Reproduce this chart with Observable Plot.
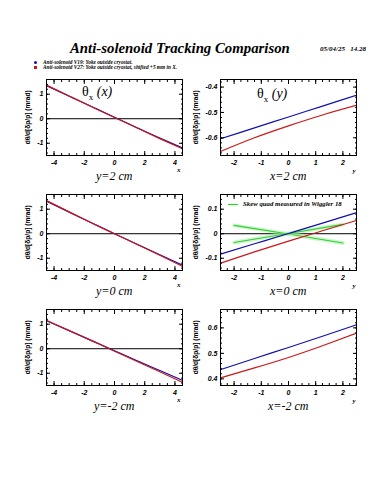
<!DOCTYPE html>
<html><head><meta charset="utf-8">
<script src="https://cdn.jsdelivr.net/npm/d3@7"></script>
<script src="https://cdn.jsdelivr.net/npm/@observablehq/plot@0.6"></script>
<style>
body{margin:0;background:#fff;}
#c{position:relative;width:375px;height:500px;overflow:hidden;background:#fff;}
.t{position:absolute;white-space:nowrap;line-height:1;color:#000;}
.svgp{position:absolute;}
</style></head><body><div id="c"></div>
<script>
// ---------- data ----------
const rowLabelsLeft = ["y=2 cm", "y=0 cm", "y=-2 cm"];
const rowLabelsRight = ["x=2 cm", "x=0 cm", "x=-2 cm"];
const xSamples = [-4.5, -3, -1.5, 0, 1.5, 3, 4.5];           // horizontal position x (cm)
const leftBlue = [
  [1.35, 0.92, 0.49, 0.06, -0.37, -0.79, -1.19],
  [1.33, 0.88, 0.44, 0.00, -0.43, -0.86, -1.28],
  [1.14, 0.74, 0.33, -0.08, -0.49, -0.89, -1.29]
];
const leftRed = [
  [1.37, 0.93, 0.49, 0.05, -0.38, -0.81, -1.23],
  [1.35, 0.89, 0.44, 0.00, -0.44, -0.88, -1.33],
  [1.16, 0.74, 0.32, -0.10, -0.52, -0.94, -1.37]
];
const ySamples = [-2.5, -1.25, 0, 1.25, 2.5];               // vertical position y (cm)
const rightBlue = [
  [-0.604, -0.561, -0.518, -0.475, -0.432],
  [-0.083, -0.041, 0.001, 0.043, 0.086],
  [0.436, 0.480, 0.523, 0.567, 0.612]
];
const rightRed = [
  [-0.654, -0.600, -0.553, -0.510, -0.472],
  [-0.120, -0.074, -0.030, 0.012, 0.054],
  [0.404, 0.443, 0.484, 0.530, 0.579]
];
const greenX = [-2, 0, 2];
const greenA = [0.034, -0.001, -0.038];
const greenB = [-0.036, 0.001, 0.038];

const leftYDomain = [-1.5, 1.6];
const rightYDomains = [[-0.67, -0.37], [-0.15, 0.16], [0.374, 0.672]];
const leftYTicks = [-1, 0, 1];
const rightYTicks = [[-0.6, -0.5, -0.4], [-0.1, 0, 0.1], [0.4, 0.5, 0.6]];
const leftXTicks = [-4, -2, 0, 2, 4];
const rightXTicks = [-2, -1, 0, 1, 2];

const BLUE = "#1010b0", RED = "#cc1818", GREEN = "#33cc33";

// ---------- layout ----------
const c = document.getElementById("c");
function txt(html, x, y, css, anchor = "middle") {
  const d = document.createElement("div");
  d.className = "t";
  d.innerHTML = html;
  d.style.cssText += css;
  c.appendChild(d);
  const w = d.offsetWidth, h = d.offsetHeight;
  const lx = anchor === "middle" ? x - w / 2 : anchor === "end" ? x - w : x;
  d.style.left = lx + "px";
  d.style.top = (y - h / 2) + "px";
  return d;
}

function rangeStep(a, b, s) { const out = []; for (let v = a; v <= b + 1e-9; v += s) out.push(+v.toFixed(6)); return out; }

function panel({px, py, mL, xDomain, yDomain, xMaj, xMin, yMaj, yMin, lines, zero, green, yFmt}) {
  const FW = 136, FH = 76, mT = 9, mR = 8, mB = 35;
  const marks = [];
  if (zero) marks.push(Plot.ruleY([0], {stroke: "#000", strokeWidth: 1}));
  if (green) {
    for (const g of green) {
      const d = greenX.map((x, i) => ({x, y: g[i]}));
      marks.push(Plot.line(d, {x: "x", y: "y", stroke: "#9ef09e", strokeWidth: 4, strokeOpacity: 0.5}));
      marks.push(Plot.line(d, {x: "x", y: "y", stroke: GREEN, strokeWidth: 1.1}));
    }
  }
  for (const L of lines) {
    marks.push(Plot.line(L.xs.map((x, i) => ({x, y: L.ys[i]})), {x: "x", y: "y", stroke: L.color, strokeWidth: 1.2, curve: "natural", clip: true}));
  }
  const none = () => "";
  for (const a of ["bottom", "top"]) {
    marks.push(Plot.axisX({anchor: a, ticks: xMin, tickSize: -2, tickFormat: none, label: null}));
    marks.push(Plot.axisX({anchor: a, ticks: xMaj, tickSize: -4, tickFormat: none, label: null}));
  }
  for (const a of ["left", "right"]) {
    marks.push(Plot.axisY({anchor: a, ticks: yMin, tickSize: -2, tickFormat: none, label: null}));
    marks.push(Plot.axisY({anchor: a, ticks: yMaj, tickSize: -4, tickFormat: none, label: null}));
  }
  marks.push(Plot.axisX({anchor: "bottom", ticks: xMaj, tickSize: 0, tickPadding: 5, label: null, tickFormat: d => String(d)}));
  marks.push(Plot.axisY({anchor: "left", ticks: yMaj, tickSize: 0, tickPadding: 3, label: null, tickFormat: yFmt}));
  marks.push(Plot.frame({stroke: "#000", strokeWidth: 1}));
  const svg = Plot.plot({
    width: mL + FW + mR, height: mT + FH + mB,
    marginLeft: mL, marginRight: mR, marginTop: mT, marginBottom: mB,
    x: {domain: xDomain}, y: {domain: yDomain},
    style: {background: "transparent", fontFamily: "Liberation Sans", fontSize: "7px", fontStyle: "italic", fontWeight: "bold", overflow: "visible"},
    marks
  });
  svg.classList.add("svgp");
  svg.style.left = px + "px";
  svg.style.top = py + "px";
  c.appendChild(svg);
}

const rowTops = [79, 194, 309];
const leftX0 = 46, rightX0 = 220;
const fmtL = d => String(d);
const fmtR = d => d === 0 ? "0" : d.toFixed(1);

rowTops.forEach((top, r) => {
  panel({px: leftX0 - 26, py: top - 9, mL: 26, xDomain: [-4.5, 4.5], yDomain: leftYDomain,
    xMaj: leftXTicks, xMin: rangeStep(-4.5, 4.5, 0.5), yMaj: leftYTicks, yMin: rangeStep(-1.4, 1.6, 0.2),
    lines: [{xs: xSamples, ys: leftBlue[r], color: BLUE}, {xs: xSamples, ys: leftRed[r], color: RED}],
    zero: true, yFmt: fmtL});
  const yd = rightYDomains[r];
  const yMinR = rangeStep(Math.ceil(yd[0] * 50) / 50, yd[1], 0.02);
  panel({px: rightX0 - 30, py: top - 9, mL: 30, xDomain: [-2.5, 2.5], yDomain: yd,
    xMaj: rightXTicks, xMin: rangeStep(-2.5, 2.5, 0.25), yMaj: rightYTicks[r], yMin: yMinR,
    lines: [{xs: ySamples, ys: rightBlue[r], color: BLUE}, {xs: ySamples, ys: rightRed[r], color: RED}],
    zero: r === 1, green: r === 1 ? [greenA, greenB] : null, yFmt: fmtR});

  const lab = "font-family:'Liberation Serif';font-style:italic;font-size:12px;";
  txt(rowLabelsLeft[r], 114, top + 97, lab);
  txt(rowLabelsRight[r], 288, top + 97, lab);
  const small = "font-family:'Liberation Serif';font-style:italic;font-weight:bold;font-size:7px;";
  txt("x", 179, top + 91, small);
  txt("y", 354, top + 92, small);
  const yl = "font-family:'Liberation Sans';font-weight:bold;font-size:6.6px;transform:rotate(-90deg);";
  txt("dθ/d[δp/p] (mrad)", 28, top + 38, yl);
  txt("dθ/d[δp/p] (mrad)", 196, top + 38, yl);
});

// titles and legends
txt("Anti-solenoid Tracking Comparison", 180, 48, "font-family:'Liberation Serif';font-style:italic;font-weight:bold;font-size:14.8px;");
txt("05/04/25&nbsp;&nbsp;&nbsp;14.28", 320, 49, "font-family:'Liberation Serif';font-style:italic;font-weight:bold;font-size:7px;", "start");
const lg = "font-family:'Liberation Serif';font-style:italic;font-weight:bold;font-size:5.3px;";
txt("Anti-solenoid V19: Yoke outside cryostat.", 43, 62.5, lg, "start");
txt("Anti-solenoid V27: Yoke outside cryostat, shifted +5 mm in X.", 43, 67.5, lg, "start");
txt("<span style='display:inline-block;width:3px;height:3px;border-radius:2px;background:" + BLUE + "'></span>", 35, 62.5, "font-size:4px;");
txt("<span style='display:inline-block;width:3px;height:3px;background:" + RED + "'></span>", 35, 67.5, "font-size:4px;");
txt("θ<sub style='font-size:9px'>x</sub> <i>(x)</i>", 97, 93, "font-family:'Liberation Serif';font-size:14px;");
txt("θ<sub style='font-size:9px'>x</sub> <i>(y)</i>", 272, 95, "font-family:'Liberation Serif';font-size:14px;");
txt("<span style='display:inline-block;width:10px;height:1.2px;background:" + GREEN + ";box-shadow:0 0 2px #9ef09e;vertical-align:middle'></span>", 233, 204, "font-size:6px;");
txt("Skew quad measured in Wiggler 18", 243, 204, "font-family:'Liberation Serif';font-style:italic;font-weight:bold;font-size:6.8px;", "start");
</script></body></html>
